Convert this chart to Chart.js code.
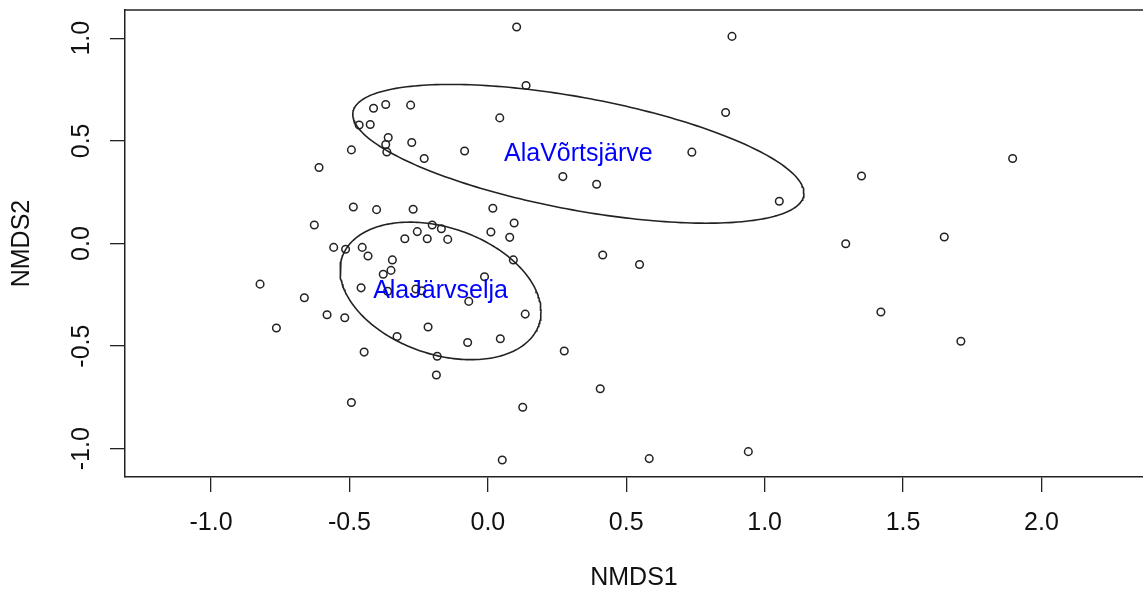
<!DOCTYPE html>
<html>
<head>
<meta charset="utf-8">
<script src="https://cdn.jsdelivr.net/npm/chart.js@4/dist/chart.umd.min.js"></script>
<style>
  html, body { margin: 0; padding: 0; background: #fff; }
  #wrap { width: 1143px; height: 593px; }
</style>
</head>
<body>
<div id="wrap"><canvas id="nmds"></canvas></div>
<script>
// site scores
const nmds1 = [
  0.104, -0.369, -0.413, -0.279, 0.043, -0.465, -0.425, -0.360, -0.369, -0.275,
  -0.493, -0.365, -0.084, -0.230, -0.610, -0.486, -0.402, -0.270, 0.018, -0.627,
  0.095, -0.201, -0.168, -0.255, 0.011, -0.300, -0.219, -0.145, 0.079, -0.557,
  -0.514, -0.454, -0.433, -0.345, 0.092, -0.350, -0.378, -0.012, -0.823, -0.458,
  -0.362, -0.260, -0.239, -0.663, -0.069, -0.581, -0.517, -0.764, -0.216, -0.328,
  0.045, -0.073, -0.447, -0.183, -0.186, -0.493, 0.052, 0.882, 0.138, 0.859,
  0.737, 0.271, 0.393, 1.350, 1.053, 1.293, 0.415, 0.548, 1.420, 0.135,
  0.276, 0.406, 0.126, 0.583, 0.941, 1.649, 1.709, 1.896
]
const nmds2 = [
  1.055, 0.677, 0.659, 0.674, 0.612, 0.577, 0.580, 0.516, 0.482, 0.492,
  0.456, 0.446, 0.451, 0.414, 0.370, 0.178, 0.165, 0.167, 0.172, 0.090,
  0.100, 0.090, 0.072, 0.058, 0.056, 0.023, 0.023, 0.020, 0.030, -0.019,
  -0.028, -0.019, -0.061, -0.080, -0.080, -0.131, -0.150, -0.162, -0.198, -0.216,
  -0.233, -0.222, -0.230, -0.264, -0.282, -0.347, -0.362, -0.412, -0.407, -0.453,
  -0.464, -0.482, -0.529, -0.549, -0.641, -0.775, -1.055, 1.009, 0.770, 0.638,
  0.445, 0.326, 0.289, 0.329, 0.206, -0.001, -0.056, -0.102, -0.334, -0.344,
  -0.524, -0.708, -0.798, -1.048, -1.014, 0.032, -0.476, 0.414
]

// group ellipses (centre, spread, correlation)
const groupNames = ['AlaVõrtsjärve', 'AlaJärvselja']
const groupCx = [0.327, -0.171]
const groupCy = [0.437, -0.231]
const groupSx = [0.815, 0.363]
const groupSy = [0.338, 0.335]
const groupR = [-0.567, -0.304]

const xTicks = [-1.0, -0.5, 0.0, 0.5, 1.0, 1.5, 2.0]
const yTicks = [-1.0, -0.5, 0.0, 0.5, 1.0]

const FONT = '"Liberation Sans", Arial, Helvetica, sans-serif'
const INK = '#222'

const ellipsePath = (i) => {
  const pts = []
  const k = Math.sqrt(1 - groupR[i] ** 2)
  for (let s = 0; s <= 240; s++) {
    const t = (s / 240) * 2 * Math.PI
    pts.push({
      x: groupCx[i] + groupSx[i] * Math.cos(t),
      y: groupCy[i] + groupSy[i] * (groupR[i] * Math.cos(t) + k * Math.sin(t)),
    })
  }
  return pts
}

const sites = nmds1.map((v, i) => ({ x: v, y: nmds2[i] }))

// top border, rotated y labels, y title and group names
const extras = {
  id: 'extras',
  afterDraw(chart) {
    const { ctx, chartArea: a, scales: { x, y } } = chart
    ctx.save()
    ctx.strokeStyle = INK
    ctx.lineWidth = 1.5
    ctx.beginPath()
    ctx.moveTo(a.left, a.top)
    ctx.lineTo(a.right + 5, a.top)
    ctx.stroke()

    ctx.fillStyle = '#111'
    ctx.font = `25px ${FONT}`
    ctx.textAlign = 'center'
    ctx.textBaseline = 'middle'
    yTicks.forEach((v) => {
      ctx.save()
      ctx.translate(82, y.getPixelForValue(v))
      ctx.rotate(-Math.PI / 2)
      ctx.fillText(v.toFixed(1), 0, 0)
      ctx.restore()
    })

    ctx.save()
    ctx.translate(22, (a.top + a.bottom) / 2)
    ctx.rotate(-Math.PI / 2)
    ctx.fillText('NMDS2', 0, 0)
    ctx.restore()

    ctx.fillStyle = '#0000ff'
    groupNames.forEach((name, i) => {
      ctx.fillText(name, x.getPixelForValue(groupCx[i]), y.getPixelForValue(groupCy[i]))
    })
    ctx.restore()
  },
}

const datasets = [
  {
    data: sites,
    showLine: false,
    pointStyle: 'circle',
    pointRadius: 3.8,
    pointBorderWidth: 1.5,
    pointBorderColor: INK,
    pointBackgroundColor: 'rgba(0,0,0,0)',
  },
]
groupNames.forEach((name, i) => {
  datasets.push({
    data: ellipsePath(i),
    showLine: true,
    borderColor: INK,
    borderWidth: 1.6,
    pointRadius: 0,
    tension: 0,
    fill: false,
  })
})

new Chart(document.getElementById('nmds'), {
  type: 'scatter',
  data: { datasets },
  plugins: [extras],
  options: {
    responsive: true,
    maintainAspectRatio: false,
    animation: false,
    events: [],
    layout: { autoPadding: false, padding: { top: 10, left: 0, right: 0, bottom: 0 } },
    plugins: { legend: { display: false }, tooltip: { enabled: false } },
    scales: {
      x: {
        type: 'linear',
        min: -1.311,
        max: 2.367,
        afterBuildTicks: (s) => { s.ticks = xTicks.map((v) => ({ value: v })) },
        afterFit: (s) => { s.height = 116 },
        grid: { drawOnChartArea: false, drawTicks: true, tickLength: 15, color: INK, lineWidth: 1.3 },
        border: { display: true, color: INK, width: 1.5 },
        ticks: {
          padding: 16,
          color: '#111',
          font: { family: FONT, size: 25 },
          maxRotation: 0,
          callback: (v) => v.toFixed(1),
        },
        title: {
          display: true,
          text: 'NMDS1',
          color: '#111',
          font: { family: FONT, size: 25 },
          padding: { top: 0, bottom: 0 },
        },
      },
      y: {
        type: 'linear',
        min: -1.1376,
        max: 1.1376,
        afterBuildTicks: (s) => { s.ticks = yTicks.map((v) => ({ value: v })) },
        afterFit: (s) => { s.width = 125 },
        grid: { drawOnChartArea: false, drawTicks: true, tickLength: 15, color: INK, lineWidth: 1.3 },
        border: { display: true, color: INK, width: 1.5 },
        ticks: { color: 'rgba(0,0,0,0)', font: { family: FONT, size: 1 } },
      },
    },
  },
})
</script>
</body>
</html>
